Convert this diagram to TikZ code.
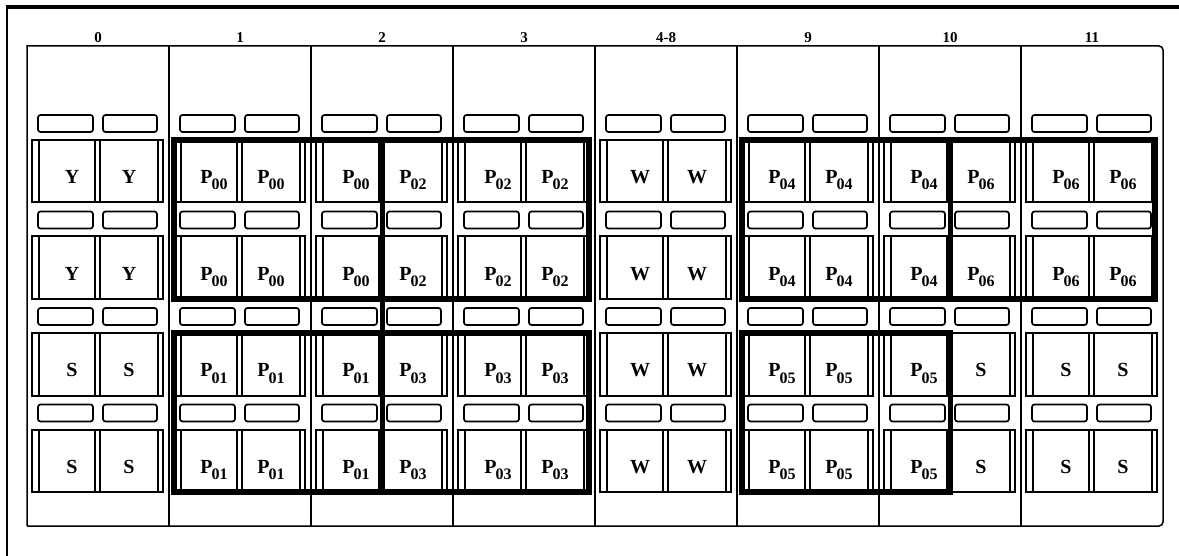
\documentclass[tikz,border=0pt]{standalone}
\usepackage{fontspec}
\setmainfont{Liberation Serif}
\newcommand\Pl[1]{P\kern-1pt\raisebox{-6pt}{\fontsize{16}{16}\selectfont #1}}
\begin{document}
\begin{tikzpicture}[x=1pt,y=-1pt,
  thin/.style={line width=1.5pt},
  slotbox/.style={line width=1.7pt, rounded corners=2.5pt},
  cardbox/.style={line width=1.6pt},
  outerbox/.style={line width=2pt},
  grp/.style={line width=5.5pt, line join=miter},
  lbl/.style={font=\fontsize{20}{20}\selectfont\bfseries, anchor=base, inner sep=0pt},
  hdr/.style={font=\fontsize{15}{15}\selectfont\bfseries, anchor=base, inner sep=0pt}]
\useasboundingbox (0,0) rectangle (1179,556);
\fill[white] (0,0) rectangle (1179,556);
% outer frame
\draw[line width=3.5pt] (5.75,7) -- (1179,7);
\draw[line width=2.5pt] (7,7) -- (7,556);
% grid
\draw[thin] (27,526) -- (27,46) [rounded corners=4pt] -- (1163,46) -- (1163,526) [sharp corners] -- (27,526);
\foreach \i in {1,...,7}{
  \draw[thin] (27+142*\i,46) -- (27+142*\i,526);
}
% headers
\foreach \i/\h in {0/0,1/1,2/2,3/3,4/4-8,5/9,6/10,7/11}{
  \node[hdr] (h\i) at (27+142*\i+71,43) {\h};
}
% slots and card boxes
\foreach \i in {0,...,7}{
  \pgfmathsetmacro\x{27+142*\i}
  \foreach \r in {0,...,3}{
    \pgfmathsetmacro\sy{115+96.5*\r}
    \pgfmathsetmacro\by{140+96.5*\r}
    \draw[slotbox] (\x+11,\sy) rectangle (\x+66,\sy+17);
    \draw[slotbox] (\x+76,\sy) rectangle (\x+130,\sy+17);
    \draw[outerbox] (\x+5,\by) rectangle (\x+136,\by+62.5);
    \draw[cardbox] (\x+12,\by) rectangle (\x+68,\by+62.5);
    \draw[cardbox] (\x+73,\by) rectangle (\x+131,\by+62.5);
  }
}
% labels
\foreach \i/\ta/\tb/\ba/\bb in {
  0/Y/Y/S/S,
  1/\Pl{00}/\Pl{00}/\Pl{01}/\Pl{01},
  2/\Pl{00}/\Pl{02}/\Pl{01}/\Pl{03},
  3/\Pl{02}/\Pl{02}/\Pl{03}/\Pl{03},
  4/W/W/W/W,
  5/\Pl{04}/\Pl{04}/\Pl{05}/\Pl{05},
  6/\Pl{04}/\Pl{06}/\Pl{05}/S,
  7/\Pl{06}/\Pl{06}/S/S}{
  \pgfmathsetmacro\x{27+142*\i}
  \foreach \r in {0,1}{
    \pgfmathsetmacro\by{140+96.5*\r+44}
    \node[lbl] (t\i-\r-a) at (\x+45,\by) {\ta};
    \node[lbl] (t\i-\r-b) at (\x+102,\by) {\tb};
  }
  \foreach \r in {2,3}{
    \pgfmathsetmacro\by{140+96.5*\r+44}
    \node[lbl] (t\i-\r-a) at (\x+45,\by) {\ba};
    \node[lbl] (t\i-\r-b) at (\x+102,\by) {\bb};
  }
}
% processor groups
\draw[grp] (174,140) rectangle (589,299);
\draw[grp] (174,333) rectangle (589,492);
\draw[grp] (382.5,140) -- (382.5,492);
\draw[grp] (742,140) rectangle (1155,299);
\draw[grp] (742,333) rectangle (950.5,492);
\draw[grp] (950.5,140) -- (950.5,299);
\end{tikzpicture}
\end{document}
